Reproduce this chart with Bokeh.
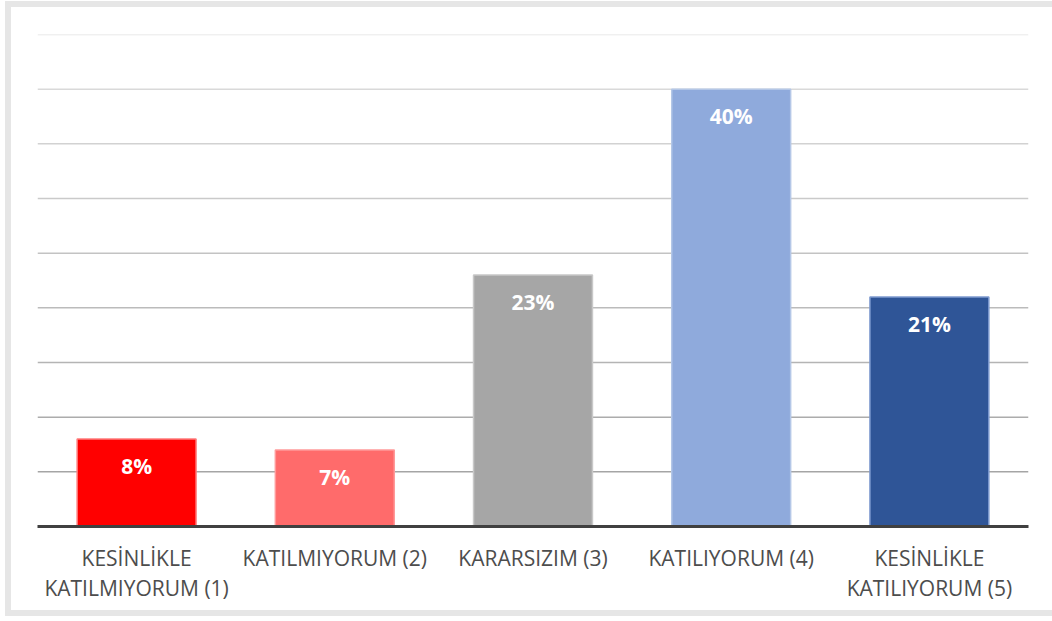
from bokeh.plotting import figure
from bokeh.models import (ColumnDataSource, FactorRange, Range1d, LabelSet, Span,
                          CategoricalAxis, CustomJSTickFormatter)
from bokeh.core.properties import value
from bokeh.embed import file_html
from bokeh.resources import INLINE

categories = ["KESİNLİKLE KATILMIYORUM (1)", "KATILMIYORUM (2)", "KARARSIZIM (3)",
              "KATILIYORUM (4)", "KESİNLİKLE KATILIYORUM (5)"]
line1 = ["KESİNLİKLE", "KATILMIYORUM (2)", "KARARSIZIM (3)", "KATILIYORUM (4)", "KESİNLİKLE"]
line2 = ["KATILMIYORUM (1)", "", "", "", "KATILIYORUM (5)"]
values = [8, 7, 23, 40, 21]
fill_colors = ["#ff0000", "#ff6b6b", "#a6a6a6", "#8faadc", "#2f5597"]
edge_colors = ["#ff7c7c", "#ff9a9a", "#c8c8c8", "#b4c7e7", "#7f9bd0"]
y_ticks = [5, 10, 15, 20, 25, 30, 35, 40, 45]

source = ColumnDataSource(dict(
    cat=categories, val=values, fill=fill_colors, edge=edge_colors,
    lab=[f"{v}%" for v in values],
))

p = figure(width=1047, height=615, x_range=FactorRange(*categories, range_padding=0),
           y_range=Range1d(0, 45), output_backend="svg", toolbar_location=None,
           min_border_left=26, min_border_right=30, min_border_top=27, min_border_bottom=96)
p.styles = {"border-left": "6px solid #e6e6e6", "border-top": "6px solid #e6e6e6",
            "border-bottom": "6px solid #e6e6e6", "margin-left": "5px", "margin-top": "1px"}
p.outline_line_color = None
p.background_fill_color = "white"
p.border_fill_color = "white"
p.xgrid.visible = False
p.ygrid.visible = False
p.yaxis.visible = False

n = len(y_ticks)
for i, t in enumerate(y_ticks):
    g = int(165 + (225 - 165) * i / (n - 1))
    p.add_layout(Span(location=t, dimension="width", line_color=f"#{g:02x}{g:02x}{g:02x}",
                      line_width=1.5, level="underlay"))

p.vbar(x="cat", top="val", width=0.6, bottom=0, source=source,
       fill_color="fill", line_color="edge", line_width=1.5)

p.add_layout(LabelSet(x="cat", y="val", text="lab", source=source, y_offset=-27,
                      text_align="center", text_baseline="middle", text_color="white",
                      text_font=value("Open Sans"), text_font_style="bold",
                      text_font_size="21px"))


def style_axis(ax, lines, standoff):
    ax.formatter = CustomJSTickFormatter(
        args=dict(cats=categories, lines=lines),
        code="const i = cats.indexOf(tick); return i >= 0 ? lines[i] : '';")
    ax.major_tick_line_color = None
    ax.minor_tick_line_color = None
    ax.major_label_text_font = "Open Sans"
    ax.major_label_text_font_size = "21px"
    ax.major_label_text_color = "#4d4d4d"
    ax.major_label_standoff = standoff


ax1 = p.xaxis[0]
ax1.axis_line_color = "#404040"
ax1.axis_line_width = 3
style_axis(ax1, line1, 11)

ax2 = CategoricalAxis()
ax2.axis_line_color = None
style_axis(ax2, line2, -7)
p.add_layout(ax2, "below")

open("out.html", "w").write(file_html(p, INLINE))
